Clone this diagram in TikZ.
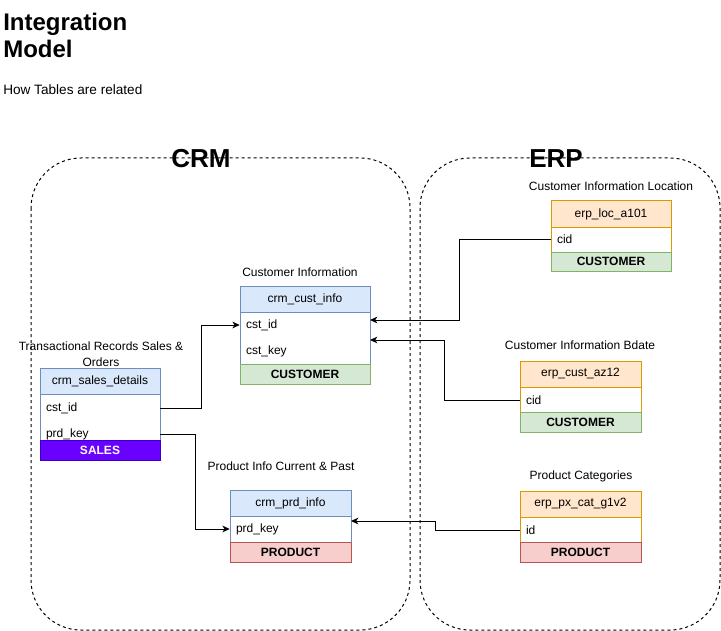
\documentclass[tikz,border=0pt]{standalone}
\usepackage{fontspec}
\setmainfont{Liberation Sans}
\usetikzlibrary{arrows.meta}
\def\pxu{0.75pt}
\definecolor{bluefill}{HTML}{DAE8FC}\definecolor{bluedraw}{HTML}{6C8EBF}
\definecolor{orgfill}{HTML}{FFE6CC}\definecolor{orgdraw}{HTML}{D79B00}
\definecolor{grnfill}{HTML}{D5E8D4}\definecolor{grndraw}{HTML}{82B366}
\definecolor{redfill}{HTML}{F8CECC}\definecolor{reddraw}{HTML}{B85450}
\definecolor{purfill}{HTML}{6A00FF}\definecolor{purdraw}{HTML}{3700CC}
\tikzset{
  txt/.style={font=\fontsize{9}{10.8}\selectfont, inner sep=0pt},
  box/.style 2 args={rectangle, inner sep=0pt, line width=0.75pt,
    minimum width={#1*\pxu}, minimum height={#2*\pxu},
    font=\fontsize{9}{10.8}\selectfont},
  hdrblue/.style={draw=bluedraw, fill=bluefill},
  hdrorg/.style={draw=orgdraw, fill=orgfill},
  bodyblue/.style={draw=bluedraw, fill=white},
  bodyorg/.style={draw=orgdraw, fill=white},
  ftgreen/.style={draw=grndraw, fill=grnfill, font=\fontsize{9}{10.8}\selectfont\bfseries},
  ftred/.style={draw=reddraw, fill=redfill, font=\fontsize{9}{10.8}\selectfont\bfseries},
  ftpurple/.style={draw=purdraw, fill=purfill, text=white, font=\fontsize{9}{10.8}\selectfont\bfseries},
  fieldrow/.style 2 args={rectangle, inner ysep=0pt, inner xsep={6*\pxu},
    minimum width={#1*\pxu}, minimum height={#2*\pxu},
    text width={(#1-12)*\pxu}, align=left,
    font=\fontsize{9}{10.8}\selectfont},
  conn/.style={line width=0.75pt, -{Stealth[length=5.5pt,width=5pt,inset=1.6pt]}},
  group/.style={draw, line width=0.75pt, dash pattern=on 2.25pt off 2.25pt,
    rounded corners=37.5pt},
  grouptitle/.style={font=\fontsize{19.5}{22}\selectfont\bfseries, inner sep=0pt},
}
\begin{document}
\begin{tikzpicture}[x=0.75pt,y=-0.75pt]
\useasboundingbox (0,0) rectangle (721,631);

% heading
\node[anchor=base west, inner sep=0pt, font=\fontsize{18}{20}\selectfont\bfseries] (title1) at (3,31) {Integration};
\node[anchor=base west, inner sep=0pt, font=\fontsize{18}{20}\selectfont\bfseries] (title2) at (3,58) {Model};
\node[anchor=base west, inner sep=0pt, font=\fontsize{10.2}{12}\selectfont] (subtitle) at (3,95) {How Tables are related};

% source system groups
\draw[group] (31,158) rectangle (410,630);
\draw[group] (420,158) rectangle (720,630);
\node[grouptitle] (crm) at (201,159) {CRM};
\node[grouptitle] (erp) at (556,159) {ERP};

% crm_cust_info
\node[txt] (ci-lbl) at (300,272) {Customer Information};
\node[box={130}{26}, hdrblue] (ci-h) at (305,299) {crm\_cust\_info};
\node[box={130}{52}, bodyblue] (ci-b) at (305,338) {};
\node[fieldrow={130}{26}] (ci-r1) at (305,325) {cst\_id};
\node[fieldrow={130}{26}] (ci-r2) at (305,351) {cst\_key};
\node[box={130}{20}, ftgreen] (ci-f) at (305,374) {CUSTOMER};
\coordinate (ci-a) at (370,320);
\coordinate (ci-c) at (370,340);

% crm_sales_details
\node[txt, align=center] (sd-lbl) at (101,354.5) {Transactional Records Sales \&\\[1.2pt]Orders};
\node[box={120}{26}, hdrblue] (sd-h) at (100,381) {crm\_sales\_details};
\node[box={120}{52}, bodyblue] (sd-b) at (100,420) {};
\node[fieldrow={120}{26}] (sd-r1) at (100,408) {cst\_id};
\node[fieldrow={120}{26}] (sd-r2) at (100,434) {prd\_key};
\node[box={120}{20}, ftpurple] (sd-f) at (100,450) {SALES};

% crm_prd_info
\node[txt] (pi-lbl) at (281,466) {Product Info Current \& Past};
\node[box={121}{26}, hdrblue] (pi-h) at (290.5,503) {crm\_prd\_info};
\node[box={121}{26}, bodyblue] (pi-b) at (290.5,529) {};
\node[fieldrow={121}{26}] (pi-r) at (290.5,529) {prd\_key};
\node[box={121}{20}, ftred] (pi-f) at (290.5,552) {PRODUCT};
\coordinate (pi-a) at (351,521);

% erp_loc_a101
\node[txt] (la-lbl) at (611,186) {Customer Information Location};
\node[box={120}{26}, hdrorg] (la-h) at (611,214) {erp\_loc\_a101};
\node[box={120}{25}, bodyorg] (la-b) at (611,239.5) {};
\node[fieldrow={120}{25}] (la-r) at (611,239.5) {cid};
\node[box={120}{19}, ftgreen] (la-f) at (611,261.5) {CUSTOMER};

% erp_cust_az12
\node[txt] (az-lbl) at (580,345) {Customer Information Bdate};
\node[box={121}{26}, hdrorg] (az-h) at (580.5,374) {erp\_cust\_az12};
\node[box={121}{25}, bodyorg] (az-b) at (580.5,399.5) {};
\node[fieldrow={121}{25}] (az-r) at (580.5,400) {cid};
\node[box={121}{20}, ftgreen] (az-f) at (580.5,422) {CUSTOMER};

% erp_px_cat_g1v2
\node[txt] (px-lbl) at (581,476) {Product Categories};
\node[box={121}{26}, hdrorg] (px-h) at (580.5,504) {erp\_px\_cat\_g1v2};
\node[box={121}{25}, bodyorg] (px-b) at (580.5,529.5) {};
\node[fieldrow={121}{25}] (px-r) at (580.5,530) {id};
\node[box={121}{20}, ftred] (px-f) at (580.5,552) {PRODUCT};

% relationships
\draw[conn] (sd-r1.east) -- ++(41,0) |- (ci-r1.west);
\draw[conn] (sd-r2.east) -- ++(35,0) |- (pi-r.west);
\draw[conn] (la-r.west) -- ++(-91,0) |- (ci-a);
\draw[conn] (az-r.west) -- ++(-75,0) |- (ci-c);
\draw[conn] (px-r.west) -- ++(-84,0) |- (pi-a);
\end{tikzpicture}
\end{document}
